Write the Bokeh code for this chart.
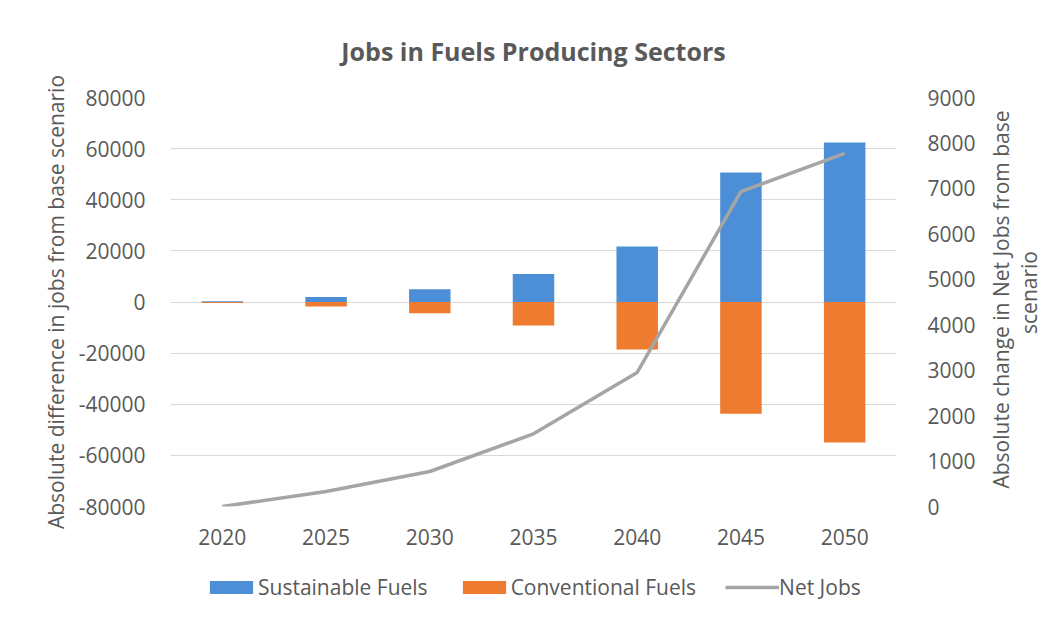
import math
from bokeh.plotting import figure
from bokeh.layouts import column, row
from bokeh.core.properties import value
from bokeh.models import (FactorRange, Range1d, LinearAxis, FixedTicker, NumeralTickFormatter,
                          Legend, LegendItem, Title)
from bokeh.embed import file_html
from bokeh.resources import INLINE

years = ["2020", "2025", "2030", "2035", "2040", "2045", "2050"]
sustainable = [300, 2000, 5000, 11000, 21700, 50700, 62400]
conventional = [-400, -1800, -4400, -9200, -18600, -43700, -55000]
net_jobs = [0, 330, 770, 1600, 2950, 6930, 7770]
left_ticks = [-80000, -60000, -40000, -20000, 0, 20000, 40000, 60000, 80000]
right_ticks = [0, 1000, 2000, 3000, 4000, 5000, 6000, 7000, 8000, 9000]
series_names = ["Sustainable Fuels", "Conventional Fuels", "Net Jobs"]
right_label_lines = ["Absolute change in Net Jobs from base", "scenario"]

FONT = "Open Sans"
TEXT = "#595959"
FS = "21px"
BLUE = "#4C8FD6"
ORANGE = "#EE7B30"
GREY = "#A5A5A5"
W = 1050
MAIN_W = 978
MAIN_H = 560

p = figure(x_range=FactorRange(*years), y_range=Range1d(-80000, 80000),
           width=MAIN_W, height=MAIN_H, output_backend="svg", toolbar_location=None,
           min_border_left=170, min_border_right=MAIN_W - 898, min_border_top=97,
           min_border_bottom=MAIN_H - 506)

p.title.text = "Jobs in Fuels Producing Sectors"
p.title.align = "center"
p.title.offset = 4
p.title.text_font = FONT
p.title.text_font_size = "25px"
p.title.text_font_style = "bold"
p.title.text_color = TEXT
p.title.standoff = 59

p.outline_line_color = None
p.xgrid.grid_line_color = None
p.ygrid.grid_line_color = "#d9d9d9"
p.ygrid.grid_line_width = 1
p.extra_y_ranges = {"net": Range1d(0, 9000)}

p.vbar(x=years, top=sustainable, bottom=0, width=0.4, fill_color=BLUE, line_color=None)
p.vbar(x=years, top=0, bottom=conventional, width=0.4, fill_color=ORANGE, line_color=None)
p.line(x=years, y=net_jobs, y_range_name="net", line_color=GREY, line_width=3.5)

ra = LinearAxis(y_range_name="net", ticker=FixedTicker(ticks=right_ticks),
                formatter=NumeralTickFormatter(format="0"))
p.add_layout(ra, "right")

for ax in [p.yaxis[0], p.xaxis[0], ra]:
    ax.axis_line_color = None
    ax.major_tick_line_color = None
    ax.minor_tick_line_color = None
    ax.major_tick_out = 0
    ax.major_tick_in = 0
    ax.major_label_text_font = FONT
    ax.major_label_text_font_size = FS
    ax.major_label_text_color = TEXT

p.yaxis[0].ticker = FixedTicker(ticks=left_ticks)
p.yaxis[0].formatter = NumeralTickFormatter(format="0")
p.yaxis[0].major_label_standoff = 25
p.xaxis[0].major_label_standoff = 22
ra.major_label_standoff = 31

p.add_layout(Title(text="Absolute difference in jobs from base scenario", align="center",
                   standoff=12, text_font=FONT, text_font_size=FS,
                   text_font_style="normal", text_color=TEXT), "left")

# right-hand axis title (two lines, reading bottom to top)
r = figure(width=W - MAIN_W, height=MAIN_H, output_backend="svg", toolbar_location=None,
           x_range=Range1d(0, W - MAIN_W), y_range=Range1d(0, 9000),
           x_axis_type=None, y_axis_type=None,
           min_border_left=0, min_border_right=0, min_border_top=97,
           min_border_bottom=MAIN_H - 506)
r.title.visible = False
r.outline_line_color = None
r.text(x=[22, 50], y=[4555, 4709], text=right_label_lines, angle=math.pi / 2,
       text_align="center", text_baseline="middle", text_font=value(FONT),
       text_font_size=value(FS), text_color=TEXT)

# legend strip below the chart
q = figure(width=W, height=609 - MAIN_H, output_backend="svg", toolbar_location=None,
           x_range=Range1d(0, 1), y_range=Range1d(0, 1),
           x_axis_type=None, y_axis_type=None,
           min_border_left=170, min_border_right=W - 898, min_border_top=0, min_border_bottom=0)
q.title.visible = False
q.outline_line_color = None
l_s = q.vbar(x=[-5], top=[-5], bottom=[-6], width=0.4, fill_color=BLUE, line_color=None)
l_c = q.vbar(x=[-5], top=[-5], bottom=[-6], width=0.4, fill_color=ORANGE, line_color=None)
l_n = q.line(x=[-5, -4], y=[-5, -5], line_color=GREY, line_width=3.5)

legend = Legend(items=[LegendItem(label=series_names[0], renderers=[l_s]),
                       LegendItem(label=series_names[1], renderers=[l_c]),
                       LegendItem(label=series_names[2], renderers=[l_n])],
                orientation="horizontal", location=(34, 8),
                border_line_color=None, background_fill_alpha=0,
                glyph_width=54, glyph_height=16, label_standoff=0, spacing=29,
                label_text_font=FONT, label_text_font_size=FS, label_text_color=TEXT,
                padding=6, margin=0)
q.add_layout(legend, "center")

open("out.html", "w").write(file_html(column(row(p, r, spacing=0), q, spacing=0), INLINE))
